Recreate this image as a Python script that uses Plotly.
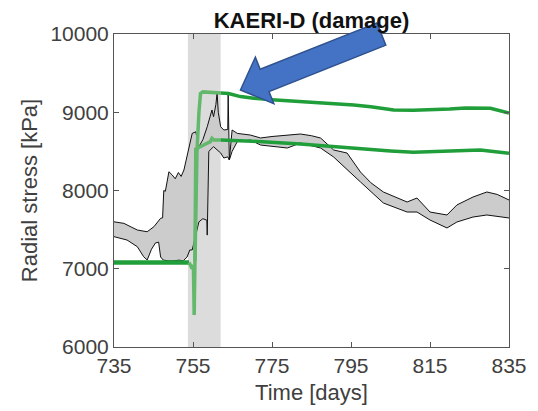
import plotly.graph_objects as go

# ---------------- data ----------------
upper_days = [735, 737.5, 740.9, 743.4, 745.1, 746.8, 747.3, 747.6, 748.0, 748.9, 749.7, 750.5,
              751.3, 752.0, 752.7, 753.5, 754.2, 754.8, 755.7, 756.5, 757.5, 758.6, 759.8, 760.2,
              760.8, 761.1, 761.4, 762.0, 762.8, 763.8, 763.9, 764.2, 764.9, 766.2, 769.5, 772.1,
              775, 778.9, 782.2, 785, 787.3, 790.6, 794, 797.4, 800, 803.2, 806, 809.2, 811.7,
              815, 819.3, 821.8, 825.9, 829.4, 832, 835]
upper_vals = [7600, 7580, 7495, 7473, 7537, 7645, 7650, 8000, 7990, 8240, 8200, 8150,
              8230, 8180, 8262, 8432, 8600, 8730, 8750, 8560, 8650, 8815, 9029, 8943,
              9100, 9250, 9000, 8815, 8773, 8780, 9220, 8390, 8773, 8730, 8709, 8671,
              8690, 8709, 8722, 8700, 8671, 8518, 8479, 8236, 8100, 7981, 7920, 7853, 7904,
              7725, 7687, 7815, 7917, 7981, 7950, 7879]

lower_days = [735, 738.3, 740.9, 742.5, 743.4, 744.5, 745.5, 746.3, 746.8, 747.5, 749, 750,
              751.5, 752.5, 753.5, 754.2, 754.8, 755.7, 756.5, 757.5, 758.5, 758.6, 759, 760.2,
              762.0, 762.8, 763.8, 764.2, 764.9, 766.2, 769.5, 772.1, 778.9, 782.2, 787.3,
              790.6, 794, 797.4, 803.2, 809.2, 811.7, 815, 819.3, 821.8, 825.9, 829.4, 835]
lower_vals = [7410, 7367, 7282, 7154, 7112, 7250, 7330, 7340, 7150, 7110, 7100, 7100,
              7110, 7100, 7150, 7240, 7240, 7450, 7600, 7640, 7620, 7430, 8500, 8560,
              8480, 8415, 8430, 8390, 8500, 8624, 8645, 8581, 8543, 8607, 8543,
              8428, 8262, 8109, 7840, 7725, 7725, 7623, 7521, 7597, 7661, 7687, 7649]

pre_days = [735, 745, 754.0]
pre_vals = [7080, 7085, 7080]

trans_upper_days = [754.0, 754.8, 755.1, 755.3, 755.5, 756.0, 756.5, 756.9, 757.5, 762.0]
trans_upper_vals = [7080, 7000, 7050, 6410, 7100, 8480, 9000, 9240, 9260, 9245]

trans_lower_days = [755.5, 755.7, 757.7, 759.4, 759.8, 760.3, 762.0]
trans_lower_vals = [7100, 8530, 8582, 8624, 8667, 8645, 8645]

post_upper_days = [762, 764, 767, 770.4, 775, 778.8, 785, 790.6, 795.7, 800, 805.8, 810.8,
                   815, 820, 824, 830.3, 835]
post_upper_vals = [9245, 9240, 9200, 9178, 9160, 9148, 9130, 9115, 9093, 9070, 9029, 9025,
                   9030, 9040, 9054, 9050, 8990]

post_lower_days = [762, 770, 782.2, 790, 799, 805, 810.8, 815, 820, 827.7, 835]
post_lower_vals = [8645, 8630, 8594, 8560, 8526, 8505, 8488, 8495, 8508, 8518, 8475]

band_days = [753.7, 762.0]

x_ticks = [735, 755, 775, 795, 815, 835]
y_ticks = [6000, 7000, 8000, 9000, 10000]

title_text = "KAERI-D (damage)"
x_title = "Time [days]"
y_title = "Radial stress [kPa]"

# ---------------- styles ----------------
W, H = 538, 411
ML, MR, MT, MB = 113.5, 29.3, 34, 64
DARK_GREEN = "#1F9E3A"
LIGHT_GREEN = "#63B86C"
FONT = "Liberation Sans, Arial, sans-serif"
TXT = "#404040"

fig = go.Figure()

# gray range band
fig.add_trace(go.Scatter(
    x=upper_days + lower_days[::-1], y=upper_vals + lower_vals[::-1],
    fill="toself", fillcolor="#CCCCCC", mode="none", hoverinfo="skip", showlegend=False))
fig.add_trace(go.Scatter(x=upper_days, y=upper_vals, mode="lines",
                         line=dict(color="#111111", width=1), showlegend=False))
fig.add_trace(go.Scatter(x=lower_days, y=lower_vals, mode="lines",
                         line=dict(color="#111111", width=1), showlegend=False))

# green model lines
fig.add_trace(go.Scatter(x=pre_days, y=pre_vals, mode="lines",
                         line=dict(color=DARK_GREEN, width=4.5), showlegend=False))
fig.add_trace(go.Scatter(x=trans_upper_days, y=trans_upper_vals, mode="lines",
                         line=dict(color=LIGHT_GREEN, width=3.5), showlegend=False))
fig.add_trace(go.Scatter(x=trans_lower_days, y=trans_lower_vals, mode="lines",
                         line=dict(color=LIGHT_GREEN, width=3.5), showlegend=False))
fig.add_trace(go.Scatter(x=post_upper_days, y=post_upper_vals, mode="lines",
                         line=dict(color=DARK_GREEN, width=3.5), showlegend=False))
fig.add_trace(go.Scatter(x=post_lower_days, y=post_lower_vals, mode="lines",
                         line=dict(color=DARK_GREEN, width=3.5), showlegend=False))

# shaded excavation period
fig.add_shape(type="rect", xref="x", yref="paper", x0=band_days[0], x1=band_days[1],
              y0=0, y1=1, fillcolor="#DCDCDC", line=dict(width=0), layer="below")

# block arrow (built in pixel space, converted to paper coords)
pw, ph = W - ML - MR, H - MT - MB
tip = (240.0, 90.0)
tail = (381.0, 34.0)
shaft_w, head_w, head_len = 24.0, 50.0, 26.0
dx, dy = tail[0] - tip[0], tail[1] - tip[1]
L = (dx * dx + dy * dy) ** 0.5
ux, uy = dx / L, dy / L
nx, ny = -uy, ux
bx, by = tip[0] + ux * head_len, tip[1] + uy * head_len
pts = [
    tip,
    (bx + nx * head_w / 2, by + ny * head_w / 2),
    (bx + nx * shaft_w / 2, by + ny * shaft_w / 2),
    (tail[0] + nx * shaft_w / 2, tail[1] + ny * shaft_w / 2),
    (tail[0] - nx * shaft_w / 2, tail[1] - ny * shaft_w / 2),
    (bx - nx * shaft_w / 2, by - ny * shaft_w / 2),
    (bx - nx * head_w / 2, by - ny * head_w / 2),
]
def to_paper(p):
    return ((p[0] - ML) / pw, (H - MB - p[1]) / ph)
path = "M " + " L ".join(f"{to_paper(p)[0]:.4f},{to_paper(p)[1]:.4f}" for p in pts) + " Z"
fig.add_shape(type="path", xref="paper", yref="paper", path=path,
              fillcolor="#4472C4", line=dict(color="#2F528F", width=1.5), layer="above")

axis_common = dict(showgrid=False, zeroline=False, showline=True, linecolor="#555555",
                   linewidth=1, mirror="ticks", ticks="inside", ticklen=5, tickcolor="#555555",
                   automargin=False,
                   tickfont=dict(family=FONT, size=21, color=TXT))

fig.update_layout(
    width=W, height=H,
    margin=dict(l=ML, r=MR, t=MT, b=MB, autoexpand=False),
    paper_bgcolor="white", plot_bgcolor="white",
    title=dict(text=f"<b>{title_text}</b>", x=0.5, xref="paper", xanchor="center",
               y=1 - 20 / H, yref="container", yanchor="middle",
               font=dict(family=FONT, size=22, color="#111111")),
    xaxis=dict(range=[735, 835], tickvals=x_ticks, ticktext=[str(v) for v in x_ticks],
               title=dict(text=x_title, standoff=8, font=dict(family=FONT, size=22, color=TXT)),
               **axis_common),
    yaxis=dict(range=[6000, 10000], tickvals=y_ticks, ticktext=[str(v) for v in y_ticks],
               title=dict(text=y_title, standoff=6, font=dict(family=FONT, size=22, color=TXT)),
               **axis_common),
)

fig.write_html("out.html", config={"displayModeBar": False},
               post_script="document.body.style.margin='0px';")
